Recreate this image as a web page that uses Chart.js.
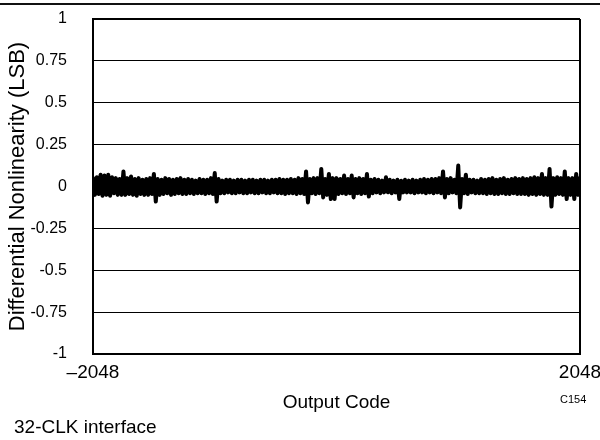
<!DOCTYPE html>
<html>
<head>
<meta charset="utf-8">
<script src="https://cdn.jsdelivr.net/npm/chart.js@4/dist/chart.umd.min.js"></script>
<style>
  html, body { margin: 0; padding: 0; background: #fff; }
  #wrap { position: relative; width: 600px; height: 440px; overflow: hidden; font-family: "Liberation Sans", Arial, sans-serif; }
  #rule { position: absolute; left: 0; top: 3px; width: 600px; height: 2px; background: #111; }
  #cv { position: absolute; left: 0; top: 0; }
  #code { position: absolute; left: 560px; top: 393px; font-size: 11px; color: #000; }
  #note { position: absolute; left: 14px; top: 416px; font-size: 19px; color: #000; }
</style>
</head>
<body>
<div id="wrap">
  <canvas id="cv" width="600" height="440"></canvas>
  <div id="rule"></div>
  <div id="code">C154</div>
  <div id="note">32-CLK interface</div>
</div>
<script>
// ---- data (DNL in LSB, one value every 16 codes) ----
const codeStart = -2048;
const codeStep = 16;
const dnlValues = [
  0.05,-0.05,0.055,-0.045,0.07,-0.055,0.065,-0.05,0.07,-0.055,0.055,-0.04,0.05,-0.05,0.045,-0.05,
  0.09,-0.05,0.05,-0.045,0.06,-0.05,0.045,-0.055,0.05,-0.045,0.04,-0.05,0.045,-0.05,0.05,-0.045,
  0.075,-0.09,0.045,-0.05,0.04,-0.045,0.05,-0.04,0.045,-0.05,0.04,-0.045,0.045,-0.04,0.05,-0.045,
  0.04,-0.045,0.045,-0.04,0.04,-0.045,0.035,-0.04,0.045,-0.04,0.04,-0.045,0.04,-0.04,0.05,-0.045,
  0.08,-0.09,0.045,-0.04,0.035,-0.04,0.04,-0.035,0.04,-0.04,0.035,-0.04,0.04,-0.035,0.04,-0.04,
  0.035,-0.04,0.04,-0.035,0.04,-0.04,0.035,-0.04,0.04,-0.035,0.04,-0.04,0.035,-0.04,0.04,-0.035,
  0.04,-0.04,0.045,-0.04,0.04,-0.045,0.04,-0.04,0.045,-0.04,0.04,-0.045,0.05,-0.04,0.045,-0.045,
  0.09,-0.095,0.045,-0.04,0.05,-0.045,0.05,-0.04,0.105,-0.065,0.045,-0.05,0.075,-0.075,0.05,-0.075,
  0.05,-0.045,0.045,-0.04,0.065,-0.045,0.045,-0.04,0.065,-0.065,0.045,-0.04,0.05,-0.045,0.045,-0.04,
  0.075,-0.06,0.04,-0.04,0.045,-0.035,0.04,-0.04,0.035,-0.035,0.055,-0.035,0.04,-0.04,0.035,-0.035,
  0.04,-0.075,0.035,-0.035,0.04,-0.035,0.035,-0.035,0.04,-0.04,0.035,-0.035,0.04,-0.035,0.045,-0.04,
  0.04,-0.035,0.045,-0.04,0.045,-0.035,0.05,-0.04,0.09,-0.065,0.045,-0.04,0.05,-0.035,0.04,-0.04,
  0.125,-0.125,0.045,-0.04,0.07,-0.045,0.04,-0.035,0.04,-0.04,0.035,-0.04,0.045,-0.04,0.04,-0.045,
  0.045,-0.04,0.05,-0.045,0.04,-0.045,0.045,-0.04,0.05,-0.045,0.04,-0.045,0.045,-0.04,0.05,-0.045,
  0.045,-0.045,0.05,-0.045,0.045,-0.05,0.05,-0.045,0.055,-0.05,0.05,-0.045,0.075,-0.05,0.05,-0.05,
  0.105,-0.12,0.05,-0.05,0.055,-0.045,0.05,-0.05,0.09,-0.075,0.05,-0.05,0.05,-0.075,0.075,-0.05,
  0.05
];
const xTickValues = [-2048, 2048];
const xTickLabels = ["\u20132048", "2048"];
const yTickValues = [1, 0.75, 0.5, 0.25, 0, -0.25, -0.5, -0.75, -1];
const yTickLabels = ["1", "0.75", "0.5", "0.25", "0", "-0.25", "-0.5", "-0.75", "-1"];

const points = dnlValues.map((v, i) => ({ x: codeStart + i * codeStep, y: v }));

const FONT = "'Liberation Sans', Arial, sans-serif";

new Chart(document.getElementById('cv'), {
  type: 'line',
  data: {
    datasets: [{
      data: points,
      borderColor: '#000',
      borderWidth: 4,
      borderJoinStyle: 'round',
      borderCapStyle: 'round',
      pointRadius: 0,
      tension: 0,
      fill: false
    }]
  },
  options: {
    responsive: false,
    animation: false,
    events: [],
    layout: { padding: { left: 0, top: 19, right: 20, bottom: 0 } },
    plugins: { legend: { display: false }, tooltip: { enabled: false } },
    scales: {
      x: {
        type: 'linear',
        min: -2048, max: 2048,
        afterBuildTicks: s => { s.ticks = xTickValues.map(v => ({ value: v })); },
        afterFit: s => { s.height = 440 - 354; s.paddingLeft = 0; s.paddingRight = 0; },
        ticks: {
          autoSkip: false, maxRotation: 0, padding: 7,
          color: '#000', font: { family: FONT, size: 19 },
          callback: (v) => xTickLabels[xTickValues.indexOf(v)]
        },
        grid: { color: '#000', lineWidth: 2, drawTicks: false },
        border: { color: '#000', width: 2 },
        title: { display: true, text: 'Output Code', color: '#000', font: { family: FONT, size: 19 }, padding: { top: 0, bottom: 26 } }
      },
      y: {
        min: -1, max: 1,
        afterBuildTicks: s => { s.ticks = yTickValues.map(v => ({ value: v })); },
        afterFit: s => { s.width = 93; s.paddingTop = 0; s.paddingBottom = 0; },
        ticks: {
          autoSkip: false, padding: 26,
          color: '#000', font: { family: FONT, size: 16 },
          callback: (v) => yTickLabels[yTickValues.indexOf(v)]
        },
        grid: {
          color: '#000', drawTicks: false,
          lineWidth: c => (c.tick && Math.abs(c.tick.value) === 1) ? 2 : 1
        },
        border: { color: '#000', width: 2 },
        title: { display: true, text: 'Differential Nonlinearity (LSB)', color: '#000', font: { family: FONT, size: 22 }, padding: { top: 5, bottom: 0 } }
      }
    }
  }
});
</script>
</body>
</html>
